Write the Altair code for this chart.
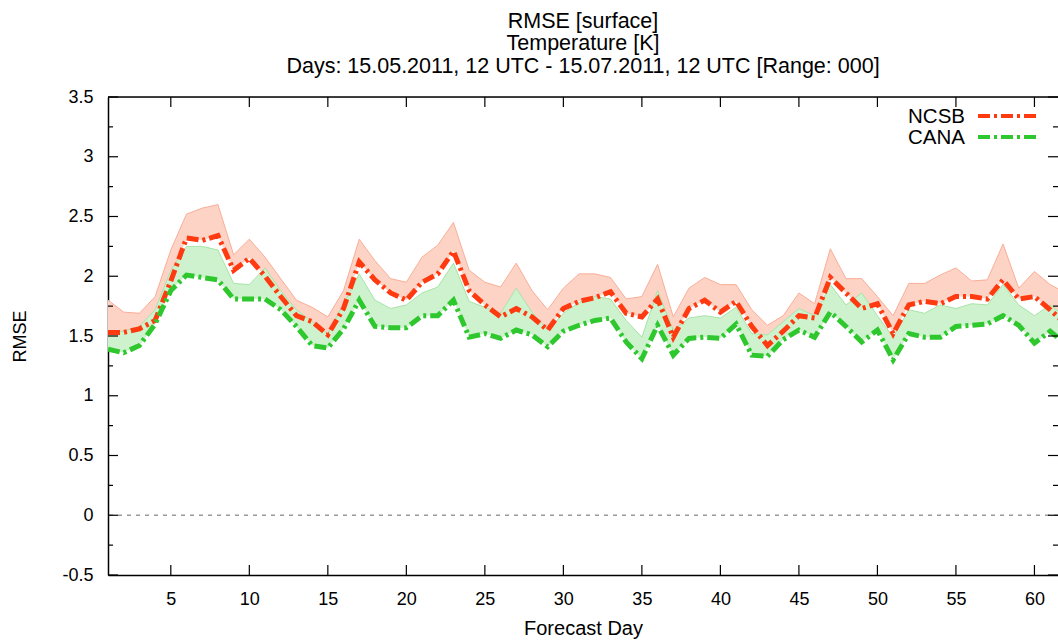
import altair as alt
import pandas as pd

# Forecast days and RMSE of surface temperature [K]
days = list(range(1, 63))

ncsb = [1.53, 1.53, 1.56, 1.63, 1.96, 2.32, 2.30, 2.34, 2.05, 2.15,
        2.00, 1.83, 1.67, 1.62, 1.51, 1.73, 2.12, 1.97, 1.86, 1.80,
        1.95, 2.02, 2.21, 1.88, 1.76, 1.66, 1.73, 1.66, 1.55, 1.73,
        1.79, 1.82, 1.87, 1.69, 1.66, 1.81, 1.49, 1.73, 1.80, 1.70,
        1.79, 1.58, 1.42, 1.54, 1.67, 1.65, 1.99, 1.86, 1.73, 1.77,
        1.52, 1.76, 1.79, 1.77, 1.83, 1.83, 1.81, 1.97, 1.81, 1.83,
        1.72, 1.60]

cana = [1.39, 1.36, 1.42, 1.60, 1.88, 2.01, 1.99, 1.97, 1.81, 1.81,
        1.81, 1.72, 1.58, 1.42, 1.40, 1.56, 1.80, 1.58, 1.57, 1.57,
        1.67, 1.67, 1.80, 1.49, 1.52, 1.48, 1.55, 1.51, 1.41, 1.54,
        1.59, 1.63, 1.65, 1.45, 1.31, 1.59, 1.34, 1.48, 1.49, 1.48,
        1.60, 1.34, 1.33, 1.47, 1.55, 1.49, 1.70, 1.58, 1.45, 1.55,
        1.30, 1.52, 1.49, 1.49, 1.58, 1.59, 1.60, 1.67, 1.59, 1.44,
        1.54, 1.43]

# Upper edge of the member spread around each run
ncsb_members_top = [1.80, 1.70, 1.69, 1.83, 2.22, 2.52, 2.57, 2.60, 2.18, 2.31,
                    2.16, 1.98, 1.80, 1.74, 1.66, 1.88, 2.31, 2.13, 1.98, 1.95,
                    2.16, 2.26, 2.45, 2.05, 1.95, 1.91, 2.11, 1.88, 1.72, 1.90,
                    2.02, 2.02, 1.99, 1.81, 1.83, 2.10, 1.66, 1.90, 1.99, 1.93,
                    1.93, 1.72, 1.59, 1.67, 1.86, 1.77, 2.23, 1.98, 1.98, 1.83,
                    1.67, 1.94, 1.94, 2.01, 2.07, 1.96, 1.97, 2.27, 1.90, 2.04,
                    1.93, 1.86]

cana_members_top = [1.52, 1.54, 1.58, 1.72, 2.05, 2.25, 2.25, 2.22, 1.94, 1.93,
                    2.07, 1.88, 1.72, 1.62, 1.52, 1.77, 2.02, 1.80, 1.73, 1.76,
                    1.86, 1.91, 2.11, 1.79, 1.74, 1.69, 1.90, 1.70, 1.55, 1.69,
                    1.78, 1.83, 1.81, 1.63, 1.49, 1.88, 1.55, 1.65, 1.67, 1.65,
                    1.74, 1.52, 1.51, 1.62, 1.73, 1.67, 1.93, 1.76, 1.86, 1.67,
                    1.49, 1.72, 1.69, 1.76, 1.73, 1.77, 1.76, 1.93, 1.76, 1.67,
                    1.76, 1.66]

x_tick_values = [5, 10, 15, 20, 25, 30, 35, 40, 45, 50, 55, 60]
y_tick_values = [-0.5, 0, 0.5, 1, 1.5, 2, 2.5, 3, 3.5]
y_minor_values = [-0.25, 0.25, 0.75, 1.25, 1.75, 2.25, 2.75, 3.25]

legend_names = ["NCSB", "CANA"]
legend_colors = ["#ff3a10", "#2ec82e"]

title_lines = ["RMSE [surface]", "Temperature [K]",
               "Days: 15.05.2011, 12 UTC - 15.07.2011, 12 UTC [Range: 000]"]

FONT = "Liberation Sans"
W, H = 950, 478

df = pd.DataFrame({"day": days, "ncsb": ncsb, "cana": cana,
                   "ncsb_top": ncsb_members_top, "cana_top": cana_members_top})

x_scale = alt.Scale(domain=[1, 61.5], nice=False, zero=False)
y_scale = alt.Scale(domain=[-0.5, 3.5], nice=False, zero=False)

x_axis = alt.Axis(values=x_tick_values, ticks=False, grid=False,
                  domainColor="black", domainWidth=1.5,
                  labelFont=FONT, labelFontSize=18, labelColor="black",
                  labelPadding=15, title="Forecast Day", titleFont=FONT,
                  titleFontSize=20, titleFontWeight="normal",
                  titleColor="black", titlePadding=10)
y_axis = alt.Axis(values=y_tick_values, ticks=False, grid=False,
                  domainColor="black", domainWidth=1.5,
                  labelFont=FONT, labelFontSize=18, labelColor="black",
                  labelPadding=15, labelExpr="toString(datum.value)",
                  title="RMSE", titleFont=FONT, titleFontSize=18,
                  titleFontWeight="normal", titleColor="black",
                  titlePadding=32)

X = alt.X("day:Q", scale=x_scale, axis=x_axis)


def Y(field):
    return alt.Y(f"{field}:Q", scale=y_scale, axis=y_axis)


base = alt.Chart(df)

# Member spread bands
ncsb_band = base.mark_area(color="#fdd3c5", clip=True).encode(
    x=X, y=Y("ncsb"), y2="ncsb_top:Q")
ncsb_edge = base.mark_line(color="#f9ae97", strokeWidth=1, clip=True).encode(
    x=X, y=Y("ncsb_top"))
cana_band = base.mark_area(color="#cdf2cd", clip=True).encode(
    x=X, y=Y("cana"), y2="cana_top:Q")
cana_edge = base.mark_line(color="#a8e4a8", strokeWidth=1, clip=True).encode(
    x=X, y=Y("cana_top"))

# Main runs, thick dash-dot
dash = [12, 4, 3, 4]
ncsb_line = base.mark_line(color=legend_colors[0], strokeWidth=5,
                           strokeDash=dash, clip=True).encode(x=X, y=Y("ncsb"))
cana_line = base.mark_line(color=legend_colors[1], strokeWidth=5,
                           strokeDash=dash, clip=True).encode(x=X, y=Y("cana"))

# Zero reference line
zero = alt.Chart(pd.DataFrame({"v": [0]})).mark_rule(
    color="#999999", strokeDash=[4, 5], strokeWidth=1.5).encode(
    y=alt.Y("v:Q", scale=y_scale, axis=y_axis))

# Inward tick marks on all four sides
ymaj = pd.DataFrame({"v": y_tick_values})
ymin = pd.DataFrame({"v": y_minor_values})
xt = pd.DataFrame({"d": x_tick_values})
tick_style = dict(color="black", strokeWidth=1.2)
yv = alt.Y("v:Q", scale=y_scale, axis=y_axis)
xd = alt.X("d:Q", scale=x_scale, axis=x_axis)
ticks = [
    alt.Chart(ymaj).mark_rule(**tick_style).encode(y=yv, x=alt.value(0), x2=alt.value(10)),
    alt.Chart(ymin).mark_rule(**tick_style).encode(y=yv, x=alt.value(0), x2=alt.value(5)),
    alt.Chart(ymaj).mark_rule(**tick_style).encode(y=yv, x=alt.value(W - 10), x2=alt.value(W)),
    alt.Chart(ymin).mark_rule(**tick_style).encode(y=yv, x=alt.value(W - 5), x2=alt.value(W)),
    alt.Chart(xt).mark_rule(**tick_style).encode(x=xd, y=alt.value(H), y2=alt.value(H - 10)),
    alt.Chart(xt).mark_rule(**tick_style).encode(x=xd, y=alt.value(0), y2=alt.value(10)),
]
top_border = alt.Chart(pd.DataFrame({"v": [0]})).mark_rule(
    color="black", strokeWidth=1.5).encode(
    x=alt.value(0), x2=alt.value(W), y=alt.value(0))

# Legend in the upper right corner
legend_layers = []
for i, (name, col) in enumerate(zip(legend_names, legend_colors)):
    row = pd.DataFrame({"name": [name]})
    yy = 20 + 21 * i
    legend_layers.append(
        alt.Chart(row).mark_text(align="right", baseline="middle", font=FONT,
                                 fontSize=20.5, color="black").encode(
            text="name:N", x=alt.value(857), y=alt.value(yy)))
    legend_layers.append(
        alt.Chart(row).mark_rule(color=col, strokeWidth=4, strokeDash=dash).encode(
            x=alt.value(870), x2=alt.value(931), y=alt.value(yy - 1)))

chart = alt.layer(
    zero, ncsb_band, ncsb_edge, cana_band, cana_edge, ncsb_line, cana_line,
    *ticks, top_border, *legend_layers
).properties(
    width=W, height=H,
    title=alt.TitleParams(text=title_lines, font=FONT, fontSize=21.5,
                          fontWeight="normal", color="black", anchor="middle",
                          lineHeight=22.5, offset=11),
    autosize=alt.AutoSizeParams(type="none"),
    padding={"left": 108, "top": 97, "right": 0, "bottom": 66},
).configure_view(stroke=None).configure(background="white")

chart.save("out.html", embed_options={"renderer": "svg", "actions": False})
